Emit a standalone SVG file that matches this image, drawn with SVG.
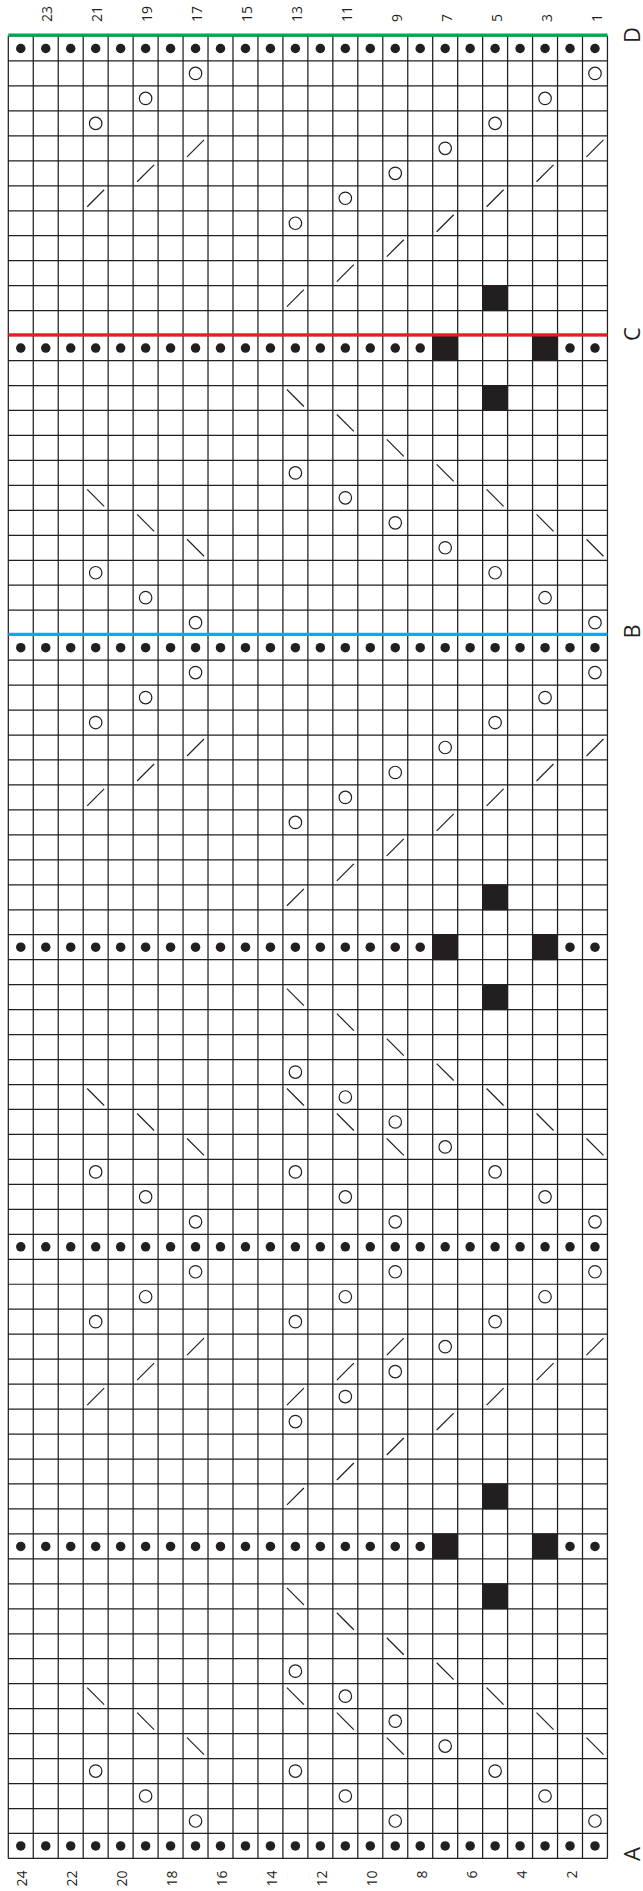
<svg xmlns="http://www.w3.org/2000/svg" xmlns:xlink="http://www.w3.org/1999/xlink" width="643" height="1891" viewBox="0 0 643 1891">
<style>
.grid{fill:none;stroke:#231f20;stroke-width:0.05}
.num{font-family:"Open Sans","Liberation Sans",sans-serif;font-size:14px;fill:#231f20}
.top{text-anchor:start}
.bot{text-anchor:end}
.let{font-family:"Open Sans","Liberation Sans",sans-serif;font-size:22px;fill:#231f20;text-anchor:middle}
.div{stroke-width:3.2;fill:none}
</style>
<defs>
<circle id="d" cx=".5" cy=".5" r=".19" fill="#231f20"/>
<circle id="o" cx=".5" cy=".5" r=".25" fill="none" stroke="#231f20" stroke-width=".048"/>
<path id="f" d="M.16 .84L.84 .16" stroke="#231f20" stroke-width=".048" fill="none"/>
<path id="b" d="M.16 .16L.84 .84" stroke="#231f20" stroke-width=".048" fill="none"/>
<rect id="k" x="-.02" y="-.02" width="1.04" height="1.04" fill="#231f20"/>
<g id="dotrow">
<use href="#d" x="0"/><use href="#d" x="1"/><use href="#d" x="2"/><use href="#d" x="3"/><use href="#d" x="4"/><use href="#d" x="5"/><use href="#d" x="6"/><use href="#d" x="7"/><use href="#d" x="8"/><use href="#d" x="9"/><use href="#d" x="10"/><use href="#d" x="11"/><use href="#d" x="12"/><use href="#d" x="13"/><use href="#d" x="14"/><use href="#d" x="15"/><use href="#d" x="16"/><use href="#d" x="17"/><use href="#d" x="18"/><use href="#d" x="19"/><use href="#d" x="20"/><use href="#d" x="21"/><use href="#d" x="22"/><use href="#d" x="23"/>
</g>
<g id="dotrowC">
<use href="#d" x="0"/><use href="#d" x="1"/><use href="#d" x="2"/><use href="#d" x="3"/><use href="#d" x="4"/><use href="#d" x="5"/><use href="#d" x="6"/><use href="#d" x="7"/><use href="#d" x="8"/><use href="#d" x="9"/><use href="#d" x="10"/><use href="#d" x="11"/><use href="#d" x="12"/><use href="#d" x="13"/><use href="#d" x="14"/><use href="#d" x="15"/><use href="#d" x="16"/><use href="#k" x="17"/><use href="#k" x="21"/><use href="#d" x="22"/><use href="#d" x="23"/>
</g>
</defs>
<rect width="643" height="1891" fill="#ffffff"/>
<g id="chart" transform="translate(8.3 36) scale(24.965)">
<path id="grid" class="grid" d="M0 0V73M1 0V73M2 0V73M3 0V73M4 0V73M5 0V73M6 0V73M7 0V73M8 0V73M9 0V73M10 0V73M11 0V73M12 0V73M13 0V73M14 0V73M15 0V73M16 0V73M17 0V73M18 0V73M19 0V73M20 0V73M21 0V73M22 0V73M23 0V73M24 0V73M0 0H24M0 1H24M0 2H24M0 3H24M0 4H24M0 5H24M0 6H24M0 7H24M0 8H24M0 9H24M0 10H24M0 11H24M0 12H24M0 13H24M0 14H24M0 15H24M0 16H24M0 17H24M0 18H24M0 19H24M0 20H24M0 21H24M0 22H24M0 23H24M0 24H24M0 25H24M0 26H24M0 27H24M0 28H24M0 29H24M0 30H24M0 31H24M0 32H24M0 33H24M0 34H24M0 35H24M0 36H24M0 37H24M0 38H24M0 39H24M0 40H24M0 41H24M0 42H24M0 43H24M0 44H24M0 45H24M0 46H24M0 47H24M0 48H24M0 49H24M0 50H24M0 51H24M0 52H24M0 53H24M0 54H24M0 55H24M0 56H24M0 57H24M0 58H24M0 59H24M0 60H24M0 61H24M0 62H24M0 63H24M0 64H24M0 65H24M0 66H24M0 67H24M0 68H24M0 69H24M0 70H24M0 71H24M0 72H24M0 73H24"/>
<g id="dotrows">
<use href="#dotrow" y="0"/><use href="#dotrow" y="24"/><use href="#dotrow" y="48"/><use href="#dotrow" y="72"/>
<use href="#dotrowC" y="12"/><use href="#dotrowC" y="36"/><use href="#dotrowC" y="60"/>
</g>
<g id="upA">
<use href="#o" x="7" y="1"/><use href="#o" x="23" y="1"/>
<use href="#o" x="5" y="2"/><use href="#o" x="21" y="2"/>
<use href="#o" x="3" y="3"/><use href="#o" x="19" y="3"/>
<use href="#f" x="7" y="4"/><use href="#o" x="17" y="4"/><use href="#f" x="23" y="4"/>
<use href="#f" x="5" y="5"/><use href="#o" x="15" y="5"/><use href="#f" x="21" y="5"/>
<use href="#f" x="3" y="6"/><use href="#o" x="13" y="6"/><use href="#f" x="19" y="6"/>
<use href="#o" x="11" y="7"/><use href="#f" x="17" y="7"/>
<use href="#f" x="15" y="8"/>
<use href="#f" x="13" y="9"/>
<use href="#f" x="11" y="10"/><use href="#k" x="19" y="10"/>
</g>
<use id="upA2" href="#upA" y="24"/>
<g id="dnA">
<use href="#b" x="11" y="14"/><use href="#k" x="19" y="14"/>
<use href="#b" x="13" y="15"/>
<use href="#b" x="15" y="16"/>
<use href="#o" x="11" y="17"/><use href="#b" x="17" y="17"/>
<use href="#b" x="3" y="18"/><use href="#o" x="13" y="18"/><use href="#b" x="19" y="18"/>
<use href="#b" x="5" y="19"/><use href="#o" x="15" y="19"/><use href="#b" x="21" y="19"/>
<use href="#b" x="7" y="20"/><use href="#o" x="17" y="20"/><use href="#b" x="23" y="20"/>
<use href="#o" x="3" y="21"/><use href="#o" x="19" y="21"/>
<use href="#o" x="5" y="22"/><use href="#o" x="21" y="22"/>
<use href="#o" x="7" y="23"/><use href="#o" x="23" y="23"/>
</g>
<g id="dnB">
<use href="#b" x="11" y="38"/><use href="#k" x="19" y="38"/>
<use href="#b" x="13" y="39"/>
<use href="#b" x="15" y="40"/>
<use href="#o" x="11" y="41"/><use href="#b" x="17" y="41"/>
<use href="#b" x="3" y="42"/><use href="#b" x="11" y="42"/><use href="#o" x="13" y="42"/><use href="#b" x="19" y="42"/>
<use href="#b" x="5" y="43"/><use href="#b" x="13" y="43"/><use href="#o" x="15" y="43"/><use href="#b" x="21" y="43"/>
<use href="#b" x="7" y="44"/><use href="#b" x="15" y="44"/><use href="#o" x="17" y="44"/><use href="#b" x="23" y="44"/>
<use href="#o" x="3" y="45"/><use href="#o" x="11" y="45"/><use href="#o" x="19" y="45"/>
<use href="#o" x="5" y="46"/><use href="#o" x="13" y="46"/><use href="#o" x="21" y="46"/>
<use href="#o" x="7" y="47"/><use href="#o" x="15" y="47"/><use href="#o" x="23" y="47"/>
</g>
<use id="dnB2" href="#dnB" y="24"/>
<g id="upB">
<use href="#o" x="7" y="49"/><use href="#o" x="15" y="49"/><use href="#o" x="23" y="49"/>
<use href="#o" x="5" y="50"/><use href="#o" x="13" y="50"/><use href="#o" x="21" y="50"/>
<use href="#o" x="3" y="51"/><use href="#o" x="11" y="51"/><use href="#o" x="19" y="51"/>
<use href="#f" x="7" y="52"/><use href="#f" x="15" y="52"/><use href="#o" x="17" y="52"/><use href="#f" x="23" y="52"/>
<use href="#f" x="5" y="53"/><use href="#f" x="13" y="53"/><use href="#o" x="15" y="53"/><use href="#f" x="21" y="53"/>
<use href="#f" x="3" y="54"/><use href="#f" x="11" y="54"/><use href="#o" x="13" y="54"/><use href="#f" x="19" y="54"/>
<use href="#o" x="11" y="55"/><use href="#f" x="17" y="55"/>
<use href="#f" x="15" y="56"/>
<use href="#f" x="13" y="57"/>
<use href="#f" x="11" y="58"/><use href="#k" x="19" y="58"/>
</g>
</g>
<g id="dividers">
<path class="div" stroke="#00a651" d="M8.3 35.2H607.5"/>
<path class="div" stroke="#ed1c24" d="M8.3 334.8H607.5"/>
<path class="div" stroke="#00aeef" d="M8.3 634.4H607.5"/>
</g>
<g id="toplabels" class="num top">
<text transform="translate(52.2 22) rotate(-90)">23</text>
<text transform="translate(102.2 22) rotate(-90)">21</text>
<text transform="translate(152.1 22) rotate(-90)">19</text>
<text transform="translate(202 22) rotate(-90)">17</text>
<text transform="translate(252 22) rotate(-90)">15</text>
<text transform="translate(301.9 22) rotate(-90)">13</text>
<text transform="translate(351.8 22) rotate(-90)">11</text>
<text transform="translate(401.8 22) rotate(-90)">9</text>
<text transform="translate(451.7 22) rotate(-90)">7</text>
<text transform="translate(501.6 22) rotate(-90)">5</text>
<text transform="translate(551.6 22) rotate(-90)">3</text>
<text transform="translate(601.5 22) rotate(-90)">1</text>
</g>
<g id="bottomlabels" class="num bot">
<text transform="translate(27.3 1870.5) rotate(-90)">24</text>
<text transform="translate(77.2 1870.5) rotate(-90)">22</text>
<text transform="translate(127.1 1870.5) rotate(-90)">20</text>
<text transform="translate(177.1 1870.5) rotate(-90)">18</text>
<text transform="translate(227 1870.5) rotate(-90)">16</text>
<text transform="translate(276.9 1870.5) rotate(-90)">14</text>
<text transform="translate(326.9 1870.5) rotate(-90)">12</text>
<text transform="translate(376.8 1870.5) rotate(-90)">10</text>
<text transform="translate(426.7 1870.5) rotate(-90)">8</text>
<text transform="translate(476.7 1870.5) rotate(-90)">6</text>
<text transform="translate(526.6 1870.5) rotate(-90)">4</text>
<text transform="translate(576.5 1870.5) rotate(-90)">2</text>
</g>
<g id="sectionlabels" class="let">
<text transform="translate(639.5 35) rotate(-90)">D</text>
<text transform="translate(639.5 334) rotate(-90)">C</text>
<text transform="translate(639.5 631.5) rotate(-90)">B</text>
<text transform="translate(639.5 1854) rotate(-90)">A</text>
</g>
</svg>
